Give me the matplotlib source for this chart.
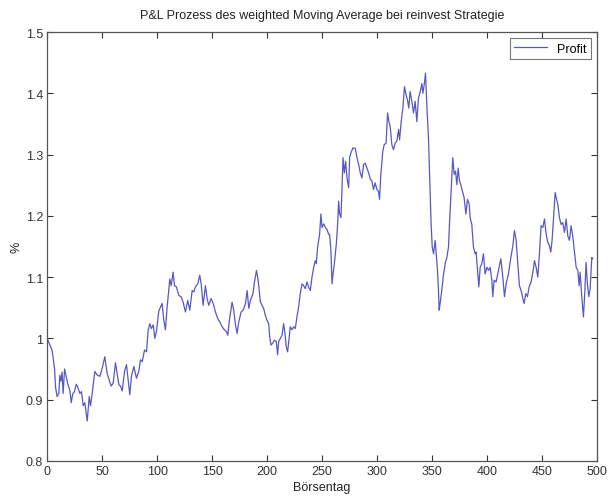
import matplotlib
matplotlib.use('Agg')
import matplotlib.pyplot as plt

plt.rcParams['font.family'] = ['Liberation Sans', 'DejaVu Sans']

# trading day and P&L value of the strategy
boersentag = [
    0, 4.5, 6.7, 7.6, 9, 10.6, 11.5, 12.5, 13.5, 14.5, 15.8, 17.6, 18.8, 20.6, 21.8,
    23.3, 24.8, 26.4, 27.9, 29.7, 31.2, 32.7, 34.2, 36.4, 38.2, 39.4, 40.9, 43.3, 45.5,
    47.9, 50, 52.4, 54.5, 56.7, 58.2, 60, 62.1, 63.6, 65.2, 66.7, 68.2, 70.3, 72.1, 73.6,
    75.1, 76.6, 78.8, 81.2, 83.3, 84.8, 86.4, 88.5, 90.3, 91.8, 93.3, 94.8, 96.4, 97.9,
    99.4, 101.5, 104.5, 106, 107.5, 109, 111.5, 112.7, 114.5, 115.7, 117.5, 119.7, 121.8,
    123.6, 125.7, 127.8, 129.7, 131.8, 133.3, 134.8, 136.9, 138.7, 140, 141.8, 143.9,
    145.4, 146.9, 149, 150.9, 153, 155.1, 156.9, 159, 161.1, 163, 164.2, 165.7, 168.1,
    169.6, 171.2, 172.7, 174.2, 176.3, 178.2, 180.3, 181.8, 183.3, 184.8, 187.1, 188.5,
    190.3, 191.8, 193.8, 195.3, 196.8, 198.3, 199.8, 201.4, 202.3, 203.5, 205, 206.5,
    208.3, 209.5, 210.5, 212, 213.5, 215, 216.2, 217.4, 218.6, 219.8, 221, 222.6, 224.1,
    225.6, 227.1, 228.6, 230.1, 231.7, 233.2, 234.7, 236.2, 237.7, 239.2, 240.8, 242.3,
    243.8, 244.7, 245.9, 247.7, 248.9, 249.9, 251.4, 252.9, 254.4, 255.9, 256.8, 258,
    259, 259.9, 261.1, 262.9, 264.1, 265, 265.9, 267.1, 268, 269, 270.2, 271.4, 272.6,
    274.1, 275, 276.2, 278, 280.2, 281.7, 283.2, 284.7, 286.2, 287.7, 289.2, 290.8,
    292.3, 293.8, 295.2, 296.7, 298.2, 299.8, 301.3, 302.2, 303.4, 305.2, 306.4, 308.2,
    309.5, 310.7, 311.9, 313.4, 314.9, 316.4, 317.9, 319.5, 320.4, 321.9, 323.4, 324.9,
    326.4, 327.6, 328.8, 330, 331.6, 333.1, 334.6, 336.1, 337.6, 339.2, 340.7, 341.6,
    342.8, 344, 345.2, 346.7, 348.2, 349.1, 350.1, 351.3, 352.8, 353.7, 354.9, 355.8,
    356.4, 357.3, 358.8, 360.4, 361.9, 363.4, 364.9, 365.8, 367, 367.9, 368.8, 370.1,
    371.3, 372.5, 373.7, 374.9, 376.1, 377.6, 379.1, 380.7, 382.2, 383.7, 384.6, 386.1,
    387.6, 389.1, 390, 391.3, 392.5, 393.7, 395.2, 396.7, 398.2, 399.8, 401.3, 402.8,
    404.3, 405.2, 406.4, 408.2, 410.4, 412.5, 414.3, 415.8, 417.3, 419.4, 421.6, 423.4,
    424.9, 426.4, 427.9, 429.4, 431, 432.5, 433.7, 435.2, 436.7, 438.2, 440, 441.6,
    443.1, 444.6, 446.1, 447.6, 449.1, 450.7, 452.2, 453.7, 455.2, 456.7, 457.9, 459.1,
    460.4, 461.9, 462.8, 464.3, 465.8, 467.3, 468.8, 470.4, 471.9, 473.4, 474.9, 476.4,
    477.9, 479.4, 481, 482.5, 483.7, 484.6, 486.1, 487.6, 488.8, 490, 491.2, 492.5,
    493.7, 495.2, 496.1,
]
profit = [
    1.0, 0.98, 0.95, 0.92, 0.905, 0.91, 0.94, 0.93, 0.945, 0.91, 0.95, 0.935, 0.925, 0.915, 0.895,
    0.91, 0.913, 0.925, 0.92, 0.91, 0.913, 0.89, 0.895, 0.865, 0.905, 0.89, 0.91, 0.946, 0.94,
    0.938, 0.951, 0.97, 0.943, 0.93, 0.922, 0.927, 0.96, 0.943, 0.924, 0.922, 0.914, 0.946, 0.957, 0.932,
    0.908, 0.938, 0.954, 0.935, 0.946, 0.965, 0.962, 0.981, 0.978, 1.013, 1.024, 1.016, 1.022, 1.0,
    1.012, 1.045, 1.057, 1.03, 1.014, 1.05, 1.097, 1.086, 1.108, 1.086, 1.084, 1.07, 1.068,
    1.059, 1.043, 1.062, 1.046, 1.078, 1.076, 1.084, 1.089, 1.103, 1.089, 1.054, 1.086,
    1.065, 1.054, 1.065, 1.057, 1.043, 1.032, 1.027, 1.019, 1.014, 1.011, 1.005, 1.03, 1.059,
    1.046, 1.022, 1.008, 1.027, 1.043, 1.046, 1.057, 1.078, 1.049, 1.062, 1.073, 1.092,
    1.111, 1.095, 1.06, 1.054, 1.049, 1.038, 1.03, 1.024, 1.003, 0.989, 0.992, 0.997,
    0.995, 0.973, 0.995, 1.0, 1.005, 1.024, 1.008, 0.986, 0.978, 0.997, 1.019, 1.014, 1.019,
    1.016, 1.035, 1.051, 1.073, 1.089, 1.086, 1.081, 1.092, 1.084, 1.078, 1.1, 1.116,
    1.127, 1.122, 1.149, 1.17, 1.203, 1.181, 1.187, 1.181, 1.178, 1.17, 1.17, 1.143,
    1.089, 1.105, 1.122, 1.154, 1.187, 1.224, 1.203, 1.197, 1.24, 1.295, 1.27, 1.289, 1.262,
    1.246, 1.295, 1.303, 1.311, 1.31, 1.295, 1.284, 1.27, 1.262, 1.284, 1.286, 1.278,
    1.27, 1.26, 1.257, 1.243, 1.254, 1.243, 1.24, 1.227, 1.268, 1.306, 1.316, 1.319,
    1.368, 1.354, 1.346, 1.316, 1.308, 1.319, 1.322, 1.341, 1.324, 1.354, 1.376, 1.411,
    1.397, 1.389, 1.376, 1.403, 1.387, 1.368, 1.387, 1.354, 1.392, 1.403, 1.416, 1.4,
    1.414, 1.433, 1.381, 1.327, 1.24, 1.187, 1.149, 1.138, 1.16, 1.138, 1.111, 1.078,
    1.046, 1.057, 1.078, 1.105, 1.122, 1.132, 1.149, 1.187, 1.23, 1.262, 1.295, 1.268,
    1.273, 1.251, 1.278, 1.257, 1.251, 1.24, 1.23, 1.203, 1.227, 1.219, 1.197, 1.186,
    1.149, 1.138, 1.141, 1.111, 1.084, 1.116, 1.122, 1.138, 1.105, 1.116, 1.111, 1.116,
    1.095, 1.068, 1.095, 1.092, 1.111, 1.13, 1.1, 1.068, 1.089, 1.105, 1.132, 1.151,
    1.176, 1.16, 1.122, 1.086, 1.078, 1.065, 1.057, 1.073, 1.068, 1.084, 1.092, 1.108,
    1.127, 1.116, 1.1, 1.138, 1.184, 1.181, 1.195, 1.17, 1.157, 1.151, 1.141, 1.16,
    1.195, 1.238, 1.23, 1.219, 1.197, 1.186, 1.189, 1.173, 1.195, 1.167, 1.16, 1.184,
    1.167, 1.143, 1.116, 1.111, 1.086, 1.108, 1.068, 1.035, 1.073, 1.124, 1.089, 1.068,
    1.081, 1.132, 1.13,
]

x_ticks = [0, 50, 100, 150, 200, 250, 300, 350, 400, 450, 500]
y_ticks = [0.8, 0.9, 1.0, 1.1, 1.2, 1.3, 1.4, 1.5]
y_ticklabels = ['0.8', '0.9', '1', '1.1', '1.2', '1.3', '1.4', '1.5']

fig = plt.figure(figsize=(6.13, 5.02), dpi=100)
ax = fig.add_axes([0.077, 0.080, 0.897, 0.854])

ax.plot(boersentag, profit, color='#5858c4', linewidth=0.9, label='Profit')

ax.set_xlim(0, 500)
ax.set_ylim(0.8, 1.5)
ax.set_xticks(x_ticks)
ax.set_yticks(y_ticks)
ax.set_yticklabels(y_ticklabels)
ax.tick_params(direction='in', top=True, right=True, length=4, width=0.8,
               labelsize=9, colors='#333333', pad=3)
for spine in ax.spines.values():
    spine.set_color('#555555')
    spine.set_linewidth(0.9)

ax.set_title('P&L Prozess des weighted Moving Average bei reinvest Strategie',
             fontsize=9, color='#222222', pad=10)
ax.set_xlabel('Börsentag', fontsize=9, color='#222222', labelpad=3)
ax.set_ylabel('%', fontsize=9, color='#222222', labelpad=2)

leg = ax.legend(loc='upper right', fontsize=9, frameon=True, fancybox=False,
                handlelength=2.6, borderaxespad=0.5, borderpad=0.35)
leg.get_frame().set_edgecolor('#555555')
leg.get_frame().set_linewidth(0.8)

fig.savefig('out.png', dpi=100)
